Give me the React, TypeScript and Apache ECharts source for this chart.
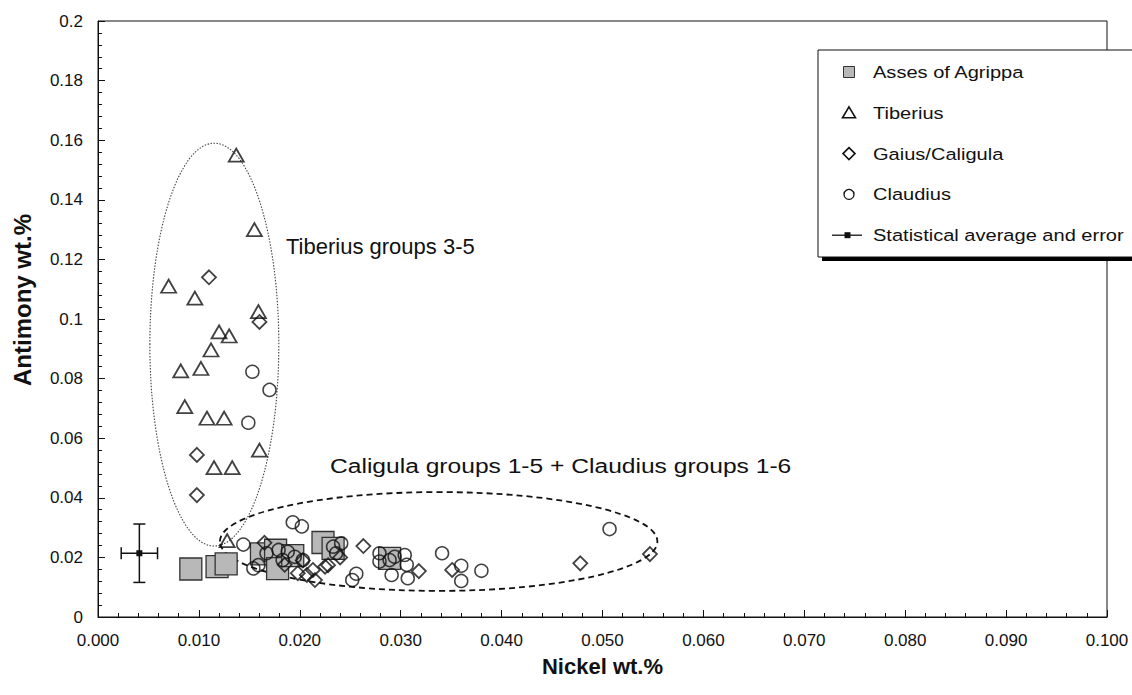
import { useEffect, useRef } from 'react';
import * as echarts from 'echarts';

// Nickel (x) and antimony (y) contents, wt.%
const agrippaNickel = [0.0092, 0.0118, 0.0127, 0.0162, 0.0176, 0.0178, 0.0193, 0.0223, 0.0233, 0.0289];
const agrippaAntimony = [0.0161, 0.0169, 0.0178, 0.0212, 0.0224, 0.0162, 0.0206, 0.025, 0.023, 0.0197];

const tiberiusNickel = [0.0137, 0.0155, 0.007, 0.0096, 0.0159, 0.012, 0.013, 0.0112, 0.0082, 0.0102, 0.0086, 0.0108, 0.0125, 0.016, 0.0115, 0.0133, 0.0128];
const tiberiusAntimony = [0.155, 0.13, 0.111, 0.107, 0.1025, 0.0957, 0.0943, 0.0896, 0.0826, 0.0834, 0.0706, 0.0667, 0.0667, 0.056, 0.0501, 0.0501, 0.0256];

const gaiusNickel = [0.011, 0.016, 0.0098, 0.0098, 0.0165, 0.0185, 0.0198, 0.0203, 0.0207, 0.0213, 0.0215, 0.0225, 0.0228, 0.024, 0.0263, 0.0318, 0.0351, 0.0478, 0.0547];
const gaiusAntimony = [0.114, 0.099, 0.0544, 0.0409, 0.0249, 0.0175, 0.0147, 0.019, 0.0141, 0.0158, 0.0124, 0.0169, 0.0174, 0.02, 0.0238, 0.0154, 0.0158, 0.018, 0.0211];

const claudiusNickel = [0.0153, 0.017, 0.0149, 0.0144, 0.0154, 0.0159, 0.0167, 0.0179, 0.0183, 0.0188, 0.0193, 0.0195, 0.0202, 0.0203, 0.0233, 0.0236, 0.0241, 0.0252, 0.0256, 0.0279, 0.0279, 0.0289, 0.0291, 0.0294, 0.0304, 0.0306, 0.0307, 0.0341, 0.036, 0.036, 0.038, 0.0507];
const claudiusAntimony = [0.0823, 0.0762, 0.0652, 0.0243, 0.0163, 0.0174, 0.0214, 0.0225, 0.0191, 0.0219, 0.0318, 0.0202, 0.0304, 0.0191, 0.0236, 0.0214, 0.0247, 0.0124, 0.0145, 0.0214, 0.0186, 0.0191, 0.0141, 0.0202, 0.0208, 0.0175, 0.013, 0.0214, 0.0172, 0.0121, 0.0155, 0.0295];

// Statistical average with its error: [nickel, antimony, nickel error, antimony error]
const statAverage = [0.0041, 0.0214, 0.0018, 0.0098];

// Group outlines: [centre nickel, centre antimony, half-width nickel, half-height antimony]
const tiberiusGroupOutline = [0.01153, 0.0914, 0.00639, 0.0676];
const caligulaGroupOutline = [0.03376, 0.02534, 0.02168, 0.01658];

const nickelRange = [0, 0.1, 0.01];
const antimonyRange = [0, 0.2, 0.02];

const seriesNames = ['Asses of Agrippa', 'Tiberius', 'Gaius/Caligula', 'Claudius', 'Statistical average and error'];
const groupLabels = ['Tiberius groups 3-5', 'Caligula groups 1-5 + Claudius groups 1-6'];
const axisNames = ['Nickel wt.%', 'Antimony wt.%'];

const FONT = '"Liberation Sans", Arial, sans-serif';
const INK = '#111';

const zip = (xs: number[], ys: number[]) => xs.map((x, i) => [x, ys[i]]);

export default function App() {
  const ref = useRef<HTMLDivElement>(null);

  useEffect(() => {
    if (!ref.current) return;
    const chart = echarts.init(ref.current, null, { renderer: 'svg' });

    const hollow = { color: 'rgba(0,0,0,0)', borderColor: INK, borderWidth: 1.8 };

    const ellipseSeries = (outline: number[], dash: number[], width: number, color: string) => ({
      type: 'custom',
      silent: true,
      clip: false,
      data: [outline],
      encode: { x: 0, y: 1 },
      renderItem: (_p: any, api: any) => {
        const cx = api.value(0), cy = api.value(1), rx = api.value(2), ry = api.value(3);
        const c = api.coord([cx, cy]);
        const r = api.coord([cx + rx, cy]);
        const t = api.coord([cx, cy + ry]);
        return {
          type: 'ellipse',
          shape: { cx: c[0], cy: c[1], rx: Math.abs(r[0] - c[0]), ry: Math.abs(c[1] - t[1]) },
          style: { fill: 'none', stroke: color, lineWidth: width, lineDash: dash },
        };
      },
    });

    const legendTop = 50;
    const legendLeft = 818;
    const rowGap = 40.8;
    const iconX = 849;
    const textX = 873;
    const rowY = (i: number) => legendTop + 22 + i * rowGap;

    const legendIcons: any[] = [
      { type: 'rect', shape: { x: iconX - 5.5, y: rowY(0) - 5.5, width: 11, height: 11 }, style: { fill: '#b8b8b8', stroke: '#333', lineWidth: 1 } },
      { type: 'polygon', shape: { points: [[iconX, rowY(1) - 6], [iconX + 6.5, rowY(1) + 5], [iconX - 6.5, rowY(1) + 5]] }, style: { fill: 'none', stroke: INK, lineWidth: 1.6 } },
      { type: 'polygon', shape: { points: [[iconX, rowY(2) - 6], [iconX + 6, rowY(2)], [iconX, rowY(2) + 6], [iconX - 6, rowY(2)]] }, style: { fill: 'none', stroke: INK, lineWidth: 1.6 } },
      { type: 'circle', shape: { cx: iconX, cy: rowY(3), r: 5 }, style: { fill: 'none', stroke: INK, lineWidth: 1.3 } },
      { type: 'line', shape: { x1: 832, y1: rowY(4), x2: 862, y2: rowY(4) }, style: { stroke: INK, lineWidth: 1.3 } },
      { type: 'rect', shape: { x: 844.5, y: rowY(4) - 3, width: 6, height: 6 }, style: { fill: INK } },
    ];

    const legendTexts = seriesNames.map((name, i) => ({
      type: 'text',
      x: textX,
      y: rowY(i),
      scaleX: 1.18,
      style: { text: name, font: `17px ${FONT}`, fill: INK, verticalAlign: 'middle', align: 'left' },
    }));

    chart.setOption({
      animation: false,
      backgroundColor: '#fff',
      grid: { left: 98, right: 25, top: 21, bottom: 78, show: true, borderColor: INK, borderWidth: 1, containLabel: false },
      xAxis: {
        type: 'value',
        min: nickelRange[0],
        max: nickelRange[1],
        interval: nickelRange[2],
        name: axisNames[0],
        nameLocation: 'middle',
        nameGap: 38,
        nameTextStyle: { fontFamily: FONT, fontWeight: 'bold', fontSize: 22, color: INK },
        axisLine: { show: true, onZero: false, lineStyle: { color: INK, width: 1 } },
        axisTick: { show: true, inside: true, length: 7, lineStyle: { color: INK } },
        minorTick: { show: true, splitNumber: 5, length: 4, lineStyle: { color: INK } },
        splitLine: { show: false },
        axisLabel: { fontFamily: FONT, fontSize: 17, color: INK, margin: 15, formatter: (v: number) => v.toFixed(3) },
      },
      yAxis: {
        type: 'value',
        min: antimonyRange[0],
        max: antimonyRange[1],
        interval: antimonyRange[2],
        name: axisNames[1],
        nameLocation: 'middle',
        nameGap: 64,
        nameTextStyle: { fontFamily: FONT, fontWeight: 'bold', fontSize: 24, color: INK, padding: [0, 0, 0, 38] },
        axisLine: { show: true, onZero: false, lineStyle: { color: INK, width: 1 } },
        axisTick: { show: true, inside: true, length: 7, lineStyle: { color: INK } },
        minorTick: { show: true, splitNumber: 5, length: 4, lineStyle: { color: INK } },
        splitLine: { show: false },
        axisLabel: { fontFamily: FONT, fontSize: 17, color: INK, margin: 15, formatter: (v: number) => (v === 0 ? '0' : String(+v.toFixed(2))) },
      },
      series: [
        ellipseSeries(tiberiusGroupOutline, [1.5, 1.5], 1.1, '#444'),
        ellipseSeries(caligulaGroupOutline, [6, 4], 1.8, INK),
        {
          name: seriesNames[0],
          type: 'scatter',
          symbol: 'rect',
          symbolSize: 22,
          data: zip(agrippaNickel, agrippaAntimony),
          itemStyle: { color: '#b8b8b8', borderColor: '#333', borderWidth: 1.3, opacity: 1 },
        },
        {
          name: seriesNames[1],
          type: 'scatter',
          symbol: 'triangle',
          symbolSize: [15, 13],
          data: zip(tiberiusNickel, tiberiusAntimony),
          itemStyle: hollow,
        },
        {
          name: seriesNames[2],
          type: 'scatter',
          symbol: 'diamond',
          symbolSize: 14,
          data: zip(gaiusNickel, gaiusAntimony),
          itemStyle: hollow,
        },
        {
          name: seriesNames[3],
          type: 'scatter',
          symbol: 'circle',
          symbolSize: 13,
          data: zip(claudiusNickel, claudiusAntimony),
          itemStyle: { ...hollow, borderWidth: 1.5 },
        },
        {
          name: seriesNames[4],
          type: 'custom',
          data: [statAverage],
          encode: { x: 0, y: 1 },
          renderItem: (_p: any, api: any) => {
            const x = api.value(0), y = api.value(1), ex = api.value(2), ey = api.value(3);
            const c = api.coord([x, y]);
            const l = api.coord([x - ex, y]);
            const r = api.coord([x + ex, y]);
            const t = api.coord([x, y + ey]);
            const b = api.coord([x, y - ey]);
            const st = { stroke: INK, lineWidth: 1.5 };
            const cap = 6;
            return {
              type: 'group',
              children: [
                { type: 'line', shape: { x1: l[0], y1: c[1], x2: r[0], y2: c[1] }, style: st },
                { type: 'line', shape: { x1: c[0], y1: t[1], x2: c[0], y2: b[1] }, style: st },
                { type: 'line', shape: { x1: l[0], y1: c[1] - cap, x2: l[0], y2: c[1] + cap }, style: st },
                { type: 'line', shape: { x1: r[0], y1: c[1] - cap, x2: r[0], y2: c[1] + cap }, style: st },
                { type: 'line', shape: { x1: c[0] - cap, y1: t[1], x2: c[0] + cap, y2: t[1] }, style: st },
                { type: 'line', shape: { x1: c[0] - cap, y1: b[1], x2: c[0] + cap, y2: b[1] }, style: st },
                { type: 'rect', shape: { x: c[0] - 3, y: c[1] - 3, width: 6, height: 6 }, style: { fill: INK } },
              ],
            };
          },
        },
      ],
      graphic: [
        {
          type: 'text',
          x: 286,
          y: 246,
          z: 50,
          style: { text: groupLabels[0], font: `22px ${FONT}`, fill: INK, verticalAlign: 'middle' },
        },
        {
          type: 'text',
          x: 330,
          y: 466,
          z: 50,
          scaleX: 1.23,
          style: { text: groupLabels[1], font: `20px ${FONT}`, fill: INK, verticalAlign: 'middle' },
        },
        {
          type: 'group',
          z: 100,
          children: [
            { type: 'rect', shape: { x: legendLeft + 4, y: legendTop + 4, width: 340, height: 207 }, style: { fill: '#000' } },
            { type: 'rect', shape: { x: legendLeft, y: legendTop, width: 340, height: 207 }, style: { fill: '#fff', stroke: INK, lineWidth: 1 } },
            ...legendIcons,
            ...legendTexts,
          ],
        },
      ],
    });

    return () => chart.dispose();
  }, []);

  return <div ref={ref} style={{ position: 'fixed', left: 0, top: 0, width: 1132, height: 695 }} />;
}
